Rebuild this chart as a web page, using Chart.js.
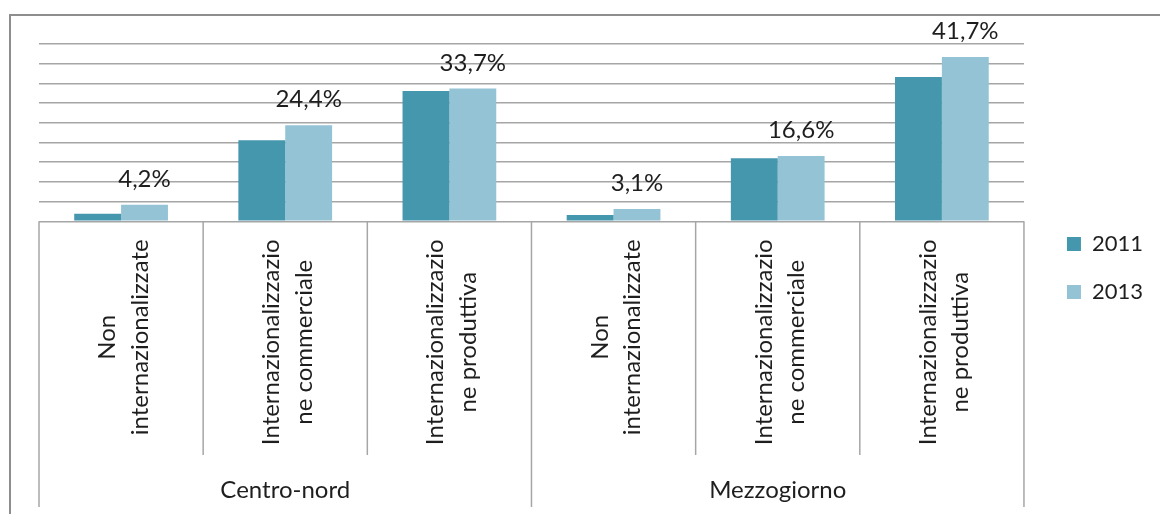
<!DOCTYPE html>
<html>
<head>
<meta charset="utf-8">
<script src="https://cdn.jsdelivr.net/npm/chart.js@4.4.1/dist/chart.umd.min.js"></script>
<style>
  html, body { margin: 0; padding: 0; background: #fff; }
  #wrap { width: 1160px; height: 514px; position: relative; }
</style>
</head>
<body>
<div id="wrap"><canvas id="barChart"></canvas></div>
<script>
let categories = [
  ["Non", "internazionalizzate"],
  ["Internazionalizzazio", "ne commerciale"],
  ["Internazionalizzazio", "ne produttiva"],
  ["Non", "internazionalizzate"],
  ["Internazionalizzazio", "ne commerciale"],
  ["Internazionalizzazio", "ne produttiva"],
];
let groups = ["Centro-nord", "Mezzogiorno"];
let groupSize = 3;
let values2011 = [1.9, 20.6, 33.1, 1.6, 16.0, 36.6];
let values2013 = [4.2, 24.4, 33.7, 3.1, 16.6, 41.7];

let fontFamily = "Lato, 'Open Sans', sans-serif";
let textColor = "#1e1e1e";
let lineColor = "#a6a6a6";

Chart.defaults.font.family = fontFamily;

function fmt(v) {
  return v.toFixed(1).replace(".", ",") + "%";
}

// frame, category separators, rotated labels, group labels, value labels
let decorations = {
  id: "decorations",
  beforeDraw(chart) {
    let c = chart.ctx;
    c.save();
    c.strokeStyle = "#8e8e8e";
    c.lineWidth = 2;
    c.beginPath();
    c.moveTo(10, 514);
    c.lineTo(10, 15);
    c.lineTo(1160, 15);
    c.stroke();
    c.restore();
  },
  afterDraw(chart) {
    let c = chart.ctx;
    let x = chart.scales.x;
    let area = chart.chartArea;
    let half = (x.getPixelForValue(1) - x.getPixelForValue(0)) / 2;
    c.save();

    c.strokeStyle = lineColor;
    c.lineWidth = 1.5;
    for (let i = 0; i <= categories.length; i++) {
      let px = i < categories.length ? x.getPixelForValue(i) - half : x.getPixelForValue(i - 1) + half;
      let end = i % groupSize === 0 ? 507 : 455;
      c.beginPath();
      c.moveTo(px, area.bottom);
      c.lineTo(px, end);
      c.stroke();
    }

    c.fillStyle = textColor;
    c.font = "24px " + fontFamily;
    categories.forEach((lines, i) => {
      let cx = x.getPixelForValue(i);
      let longest = Math.max(...lines.map((l) => c.measureText(l).width));
      c.save();
      c.translate(cx, area.bottom + 18 + longest / 2);
      c.rotate(-Math.PI / 2);
      c.textAlign = "center";
      c.textBaseline = "alphabetic";
      lines.forEach((l, j) => {
        c.fillText(l, 0, 10.25 + (j - (lines.length - 1) / 2) * 32.5);
      });
      c.restore();
    });

    c.textAlign = "center";
    c.textBaseline = "alphabetic";
    groups.forEach((g, k) => {
      let a = x.getPixelForValue(k * groupSize);
      let b = x.getPixelForValue(k * groupSize + groupSize - 1);
      c.fillText(g, (a + b) / 2, 498);
    });

    let meta = chart.getDatasetMeta(1);
    meta.data.forEach((bar, i) => {
      c.fillText(fmt(values2013[i]), bar.x, bar.y - 18);
    });
    c.restore();
  },
};

let ctx = document.getElementById("barChart").getContext("2d");

let myChart = new Chart(ctx, {
  type: "bar",
  data: {
    labels: categories,
    datasets: [
      {
        label: "2011",
        data: values2011,
        backgroundColor: "#4597ae",
      },
      {
        label: "2013",
        data: values2013,
        backgroundColor: "#93c3d5",
      },
    ],
  },
  options: {
    responsive: true,
    maintainAspectRatio: false,
    animation: false,
    datasets: {
      bar: { barPercentage: 1.0, categoryPercentage: 0.571 },
    },
    layout: {
      padding: { top: 44, left: 39, right: 7, bottom: 22 },
    },
    plugins: {
      legend: {
        position: "right",
        labels: {
          boxWidth: 14,
          boxHeight: 14,
          padding: 26,
          color: textColor,
          font: { size: 22 },
        },
      },
      tooltip: { enabled: false },
    },
    scales: {
      x: {
        grid: { display: false },
        border: { display: false },
        ticks: { display: false },
        afterFit: (scale) => {
          scale.height = 270.7;
        },
      },
      y: {
        position: "right",
        min: 0,
        max: 45,
        ticks: { display: false, stepSize: 5 },
        grid: { color: lineColor, lineWidth: 1.5, drawTicks: false },
        border: { display: false },
        afterFit: (scale) => {
          scale.width = 17;
        },
      },
    },
  },
  plugins: [decorations],
});
</script>
</body>
</html>
